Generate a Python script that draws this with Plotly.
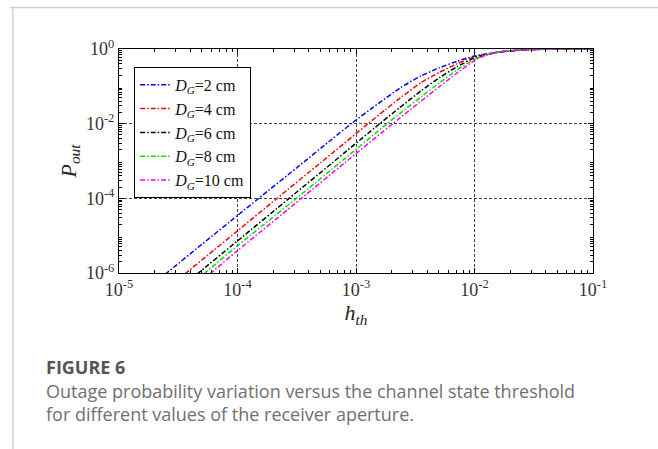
import plotly.graph_objects as go

# ---- data (log10 values) ----
labels = ["2 cm", "4 cm", "6 cm", "8 cm", "10 cm"]
colors = ["#0000FF", "#FF0000", "#000000", "#00E000", "#FF00FF"]

logh_2 = [-4.68, -4.598, -4.3, -4.0, -3.825, -3.5, -3.2, -3.04, -2.85, -2.631, -2.45, -2.293, -2.15, -2.0, -1.787, -1.6, -1.4, -1.2, -1.0]
logP_2 = [-6.2, -6.0, -5.23, -4.46, -4.01, -3.18, -2.41, -2.0, -1.55, -1.05, -0.72, -0.50, -0.33, -0.19, -0.075, -0.025, -0.006, 0.0, 0.0]

logh_4 = [-4.51, -4.435, -4.2, -4.0, -3.67, -3.3, -2.898, -2.75, -2.631, -2.45, -2.293, -2.15, -2.0, -1.787, -1.6, -1.4, -1.2, -1.0]
logP_4 = [-6.2, -6.0, -5.39, -4.87, -4.01, -3.05, -2.0, -1.62, -1.32, -0.90, -0.62, -0.40, -0.21, -0.08, -0.028, -0.007, 0.0, 0.0]

logh_6 = [-4.41, -4.331, -4.0, -3.564, -3.2, -2.80, -2.631, -2.45, -2.293, -2.15, -2.0, -1.9, -1.787, -1.6, -1.4, -1.2, -1.0]
logP_6 = [-6.2, -6.0, -5.14, -4.0, -3.05, -2.0, -1.57, -1.12, -0.76, -0.48, -0.24, -0.15, -0.08, -0.028, -0.007, 0.0, 0.0]

logh_8 = [-4.35, -4.275, -4.0, -3.502, -3.1, -2.738, -2.631, -2.45, -2.293, -2.15, -2.0, -1.9, -1.787, -1.6, -1.4, -1.2, -1.0]
logP_8 = [-6.2, -6.0, -5.27, -4.0, -2.95, -2.0, -1.73, -1.28, -0.90, -0.57, -0.27, -0.15, -0.08, -0.025, -0.006, 0.0, 0.0]

logh_10 = [-4.30, -4.224, -4.0, -3.46, -3.1, -2.69, -2.631, -2.45, -2.293, -2.15, -2.0, -1.9, -1.787, -1.6, -1.4, -1.2, -1.0]
logP_10 = [-6.2, -6.0, -5.4, -4.0, -3.06, -2.0, -1.85, -1.39, -1.0, -0.65, -0.31, -0.16, -0.08, -0.025, -0.006, 0.0, 0.0]

series = [(logh_2, logP_2), (logh_4, logP_4), (logh_6, logP_6), (logh_8, logP_8), (logh_10, logP_10)]

x_tick_exp = [-5, -4, -3, -2, -1]
y_tick_exp = [-6, -4, -2, 0]

caption_title = "FIGURE 6"
caption_text = ["Outage probability variation versus the channel state threshold",
                "for different values of the receiver aperture."]

SERIF = "Liberation Serif, Times New Roman, serif"
SANS = "Open Sans, Noto Sans, sans-serif"


def minor_vals(exps):
    out = []
    for e in exps[:-1]:
        for m in range(2, 10):
            out.append(m * 10 ** e)
    return out


fig = go.Figure()
for (lh, lp), lab, col in zip(series, labels, colors):
    fig.add_trace(go.Scatter(
        x=[10 ** v for v in lh], y=[10 ** v for v in lp],
        mode="lines", line=dict(color=col, width=1.5, dash="5px,2px,1.5px,2px", shape="spline", smoothing=0.6),
        name="<i>D</i><sub><i>G</i></sub>=" + lab,
    ))

axis_common = dict(
    type="log", showline=True, linecolor="black", linewidth=1, mirror="ticks",
    ticks="inside", ticklen=5, tickcolor="black", tickwidth=1,
    showgrid=True, gridcolor="#444444", gridwidth=1, griddash="3px,2px",
    zeroline=False,
    tickfont=dict(family=SERIF, size=18, color="#333"),
)

fig.update_xaxes(**axis_common, range=[-5, -1],
                 tickvals=[10 ** e for e in x_tick_exp],
                 ticktext=["10<sup>%d</sup>" % e for e in x_tick_exp],
                 minor=dict(ticks="inside", ticklen=3, tickcolor="black", tickvals=minor_vals(x_tick_exp), showgrid=False),
                 title=dict(text="<i>h</i><sub><i>th</i></sub>", font=dict(family=SERIF, size=22, color="#222"), standoff=6))
fig.update_yaxes(**axis_common, range=[-6, 0],
                 tickvals=[10 ** e for e in y_tick_exp],
                 ticktext=["10<sup>%d</sup>" % e for e in y_tick_exp],
                 minor=dict(ticks="inside", ticklen=3, tickcolor="black",
                            tickvals=minor_vals([-6, -5, -4, -3, -2, -1, 0]), showgrid=False),
                 title=dict(text="<i>P</i><sub><i>out</i></sub>", font=dict(family=SERIF, size=22, color="#222"), standoff=3))

fig.update_layout(
    width=658, height=449,
    margin=dict(l=119, r=65, t=49, b=176),
    paper_bgcolor="white", plot_bgcolor="white",
    showlegend=True,
    legend=dict(x=0.032, y=0.92, xanchor="left", yanchor="top",
                bgcolor="white", bordercolor="black", borderwidth=1,
                font=dict(family=SERIF, size=16, color="#111"),
                itemwidth=30, tracegroupgap=0),
)

# card frame
fig.add_shape(type="line", xref="paper", yref="paper", x0=-0.23, x1=1.2, y0=1.185, y1=1.185,
              line=dict(color="#d0d0d0", width=1.5))
fig.add_shape(type="line", xref="paper", yref="paper", x0=-0.224, x1=-0.224, y0=1.185, y1=-0.8,
              line=dict(color="#d0d0d0", width=1.5))

# caption
fig.add_annotation(xref="paper", yref="paper", x=(44 - 119) / 474, y=(273 - 367) / 224,
                   xanchor="left", yanchor="middle", showarrow=False,
                   text="<b>" + caption_title + "</b>", font=dict(family=SANS, size=18, color="#555"))
fig.add_annotation(xref="paper", yref="paper", x=(44 - 119) / 474, y=(273 - 402) / 224,
                   xanchor="left", yanchor="middle", align="left", showarrow=False,
                   text="<br>".join(caption_text), font=dict(family=SANS, size=18, color="#707070"))

fig.write_html("out.html")
